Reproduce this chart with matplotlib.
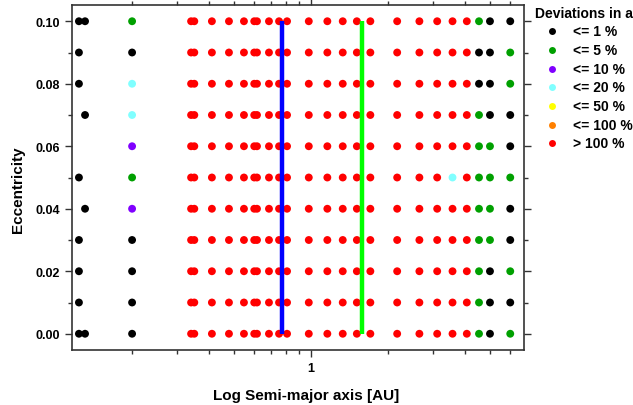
import matplotlib
matplotlib.use("Agg")
import matplotlib.pyplot as plt
from matplotlib.lines import Line2D
from matplotlib.ticker import NullFormatter, FixedLocator, FixedFormatter, MultipleLocator

plt.rcParams['font.family'] = ['Liberation Sans', 'DejaVu Sans']
plt.rcParams['font.weight'] = 'bold'

# ---- data ----
eccentricities = [0.00, 0.01, 0.02, 0.03, 0.04, 0.05, 0.06, 0.07, 0.08, 0.09, 0.10]
semi_major_axes = [0.124, 0.131, 0.2, 0.34, 0.35, 0.41, 0.478, 0.547, 0.60, 0.615,
                   0.685, 0.75, 0.806, 0.98, 1.158, 1.33, 1.51, 1.705, 2.17, 2.65,
                   3.11, 3.57, 4.06, 4.53, 5.0, 6.0]
# deviation class per column, one char per eccentricity (0.00 .. 0.10); '-' = no point
# K <=1%, G <=5%, P <=10%, C <=20%, Y <=50%, O <=100%, R >100%
deviation_classes = [
    "KKKK-K--KKK",
    "K---K--K--K",
    "KKKKPGPCCKG",
    "RRRRRRRRRRR", "RRRRRRRRRRR", "RRRRRRRRRRR", "RRRRRRRRRRR", "RRRRRRRRRRR",
    "RRRRRRRRRRR", "RRRRRRRRRRR", "RRRRRRRRRRR", "RRRRRRRRRRR", "RRRRRRRRRRR",
    "RRRRRRRRRRR", "RRRRRRRRRRR", "RRRRRRRRRRR", "RRRRRRRRRRR", "RRRRRRRRRRR",
    "RRRRRRRRRRR", "RRRRRRRRRRR", "RRRRRRRRRRR", "RRRRRCRRRRR", "RRRRRRRRRRR",
    "GGGGGGGGKKG",
    "KKKGGGGKKKK",
    "GKGKKGKKGGK",
]
class_codes = ["K", "G", "P", "C", "Y", "O", "R"]
class_labels = ["<= 1 %", "<= 5 %", "<= 10 %", "<= 20 %", "<= 50 %", "<= 100 %", "> 100 %"]
class_colors = ["#000000", "#00a000", "#8000ff", "#80ffff", "#ffff00", "#ff8000", "#ff0000"]
blue_line_a = 0.77
green_line_a = 1.58
line_e_range = [0.0, 0.10]

color_of = dict(zip(class_codes, class_colors))

W, H = 633, 406
fig = plt.figure(figsize=(W/100, H/100), dpi=100)
ax = fig.add_axes([72/W, 1-351/H, (524-72)/W, (351-6)/H])

xs, ys, cs = [], [], []
for a, col in zip(semi_major_axes, deviation_classes):
    for e, c in zip(eccentricities, col):
        if c == '-':
            continue
        xs.append(a); ys.append(e); cs.append(color_of[c])
ax.scatter(xs, ys, s=32, c=cs, edgecolors='none', zorder=2)

ax.plot([blue_line_a, blue_line_a], line_e_range, color='#0000ff', lw=3.2,
        solid_capstyle='butt', zorder=3)
ax.plot([green_line_a, green_line_a], line_e_range, color='#00ff00', lw=3.2,
        solid_capstyle='butt', zorder=3)

ax.set_xscale('log')
ax.set_xlim(0.1165, 6.79)
ax.set_ylim(-0.0052, 0.1052)

ax.xaxis.set_major_locator(FixedLocator([1.0]))
ax.xaxis.set_major_formatter(FixedFormatter(["1"]))
ax.xaxis.set_minor_locator(FixedLocator([0.2, 0.3, 0.4, 0.5, 0.6, 0.7, 0.8, 0.9, 2, 3, 4, 5, 6]))
ax.xaxis.set_minor_formatter(NullFormatter())
ax.yaxis.set_major_locator(MultipleLocator(0.02))
ax.yaxis.set_minor_locator(MultipleLocator(0.01))
ax.yaxis.set_major_formatter(plt.FuncFormatter(lambda v, p: f"{v:.2f}"))

ax.tick_params(which='both', direction='out', top=True, right=True, width=1.0,
               labelsize=9, color='#333333')
ax.tick_params(which='major', length=5)
ax.tick_params(which='minor', length=3)
for lab in ax.get_xticklabels() + ax.get_yticklabels():
    lab.set_fontweight('bold')
for sp in ax.spines.values():
    sp.set_linewidth(1.2)
    sp.set_color('#333333')

ax.set_xlabel("Log Semi-major axis [AU]", fontsize=11, fontweight='bold')
ax.set_ylabel("Eccentricity", fontsize=11, fontweight='bold')
ax.xaxis.set_label_coords((306-72)/452, (351-389)/345)
ax.yaxis.set_label_coords((25-72)/452, (351-190)/345)

# legend (drawn manually to match the layout)
fig.text(535/W, 1-14.5/H, "Deviations in a", fontsize=10, fontweight='bold',
         ha='left', va='center')
for i, (lab, col) in enumerate(zip(class_labels, class_colors)):
    yy = 1 - (32.3 + 18.67*i)/H
    fig.add_artist(Line2D([552/W], [yy], marker='o', linestyle='none', markersize=5.0,
                          markerfacecolor=col, markeredgecolor='none',
                          transform=fig.transFigure))
    fig.text(573/W, yy, lab, fontsize=10, fontweight='bold', ha='left', va='center')

fig.savefig("out.png", dpi=100)
